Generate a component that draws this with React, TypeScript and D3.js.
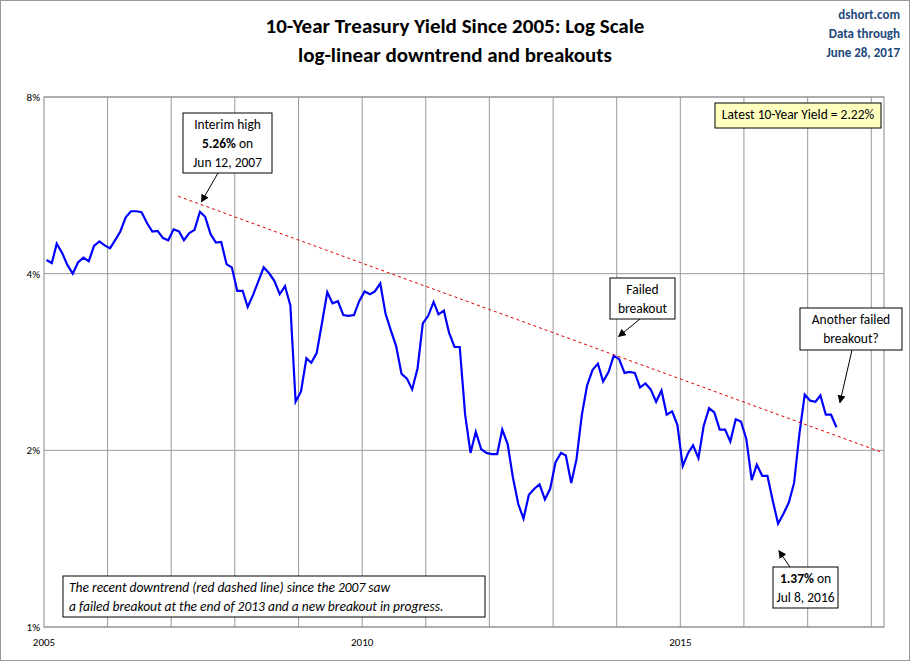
import React from "react";
import * as d3 from "d3";

// monthly 10-year yields, Jan 2005 .. Jun 2017
const startYear = 2005;
const yields = [
  4.22, 4.17, 4.5, 4.34, 4.14, 4.0, 4.18, 4.26, 4.2, 4.46, 4.54, 4.47,
  4.42, 4.57, 4.72, 4.99, 5.11, 5.11, 5.09, 4.88, 4.72, 4.73, 4.6, 4.56,
  4.76, 4.72, 4.56, 4.69, 4.75, 5.1, 5.0, 4.67, 4.52, 4.53, 4.15, 4.1,
  3.74, 3.74, 3.51, 3.68, 3.88, 4.1, 4.01, 3.89, 3.69, 3.81, 3.53, 2.42,
  2.52, 2.87, 2.82, 2.93, 3.29, 3.72, 3.56, 3.59, 3.4, 3.39, 3.4, 3.59,
  3.73, 3.69, 3.73, 3.85, 3.42, 3.2, 3.01, 2.7, 2.65, 2.54, 2.76, 3.29,
  3.39, 3.58, 3.41, 3.46, 3.17, 3.0, 3.0, 2.3, 1.98, 2.15, 2.01, 1.98,
  1.97, 1.97, 2.17, 2.05, 1.8, 1.62, 1.53, 1.68, 1.72, 1.75, 1.65, 1.72,
  1.91, 1.98, 1.96, 1.76, 1.93, 2.3, 2.58, 2.74, 2.81, 2.62, 2.72, 2.9,
  2.86, 2.71, 2.72, 2.71, 2.56, 2.6, 2.54, 2.42, 2.53, 2.3, 2.33, 2.21,
  1.88, 1.98, 2.04, 1.94, 2.2, 2.36, 2.32, 2.17, 2.17, 2.07, 2.26, 2.24,
  2.09, 1.78, 1.89, 1.81, 1.81, 1.64, 1.5, 1.56, 1.63, 1.76, 2.14, 2.49,
  2.43, 2.42, 2.48, 2.3, 2.3, 2.19,
];
const yTicks = [1, 2, 4, 8];
const xTicks = [2005, 2010, 2015];
const trend = [
  { date: new Date(2007, 1, 10), v: 5.42 },
  { date: new Date(2018, 1, 20), v: 1.99 },
];
const highPoint = { date: new Date(2007, 5, 12), v: 5.26 };
const lowPoint = { date: new Date(2016, 6, 8), v: 1.37 };
const failedPoint = { date: new Date(2013, 11, 31), v: 3.03 };
const anotherPoint = { date: new Date(2017, 4, 20), v: 2.45 };

const data = yields.map((v, i) => ({ date: new Date(startYear, i, 15), v }));

const L = 44, R = 884, T = 97, B = 627;
const font = "Calibri, Carlito, 'Liberation Sans', Arial, sans-serif";

export default function App() {
  const x = d3.scaleTime().domain([new Date(2005, 0, 1), new Date(2018, 2, 15)]).range([L, R]);
  const y = d3.scaleLog().domain([1, 8]).range([B, T]);
  const line = d3.line<{ date: Date; v: number }>().x((d) => x(d.date)).y((d) => y(d.v));
  const years = d3.range(2006, 2019).map((yr) => new Date(yr, 0, 1)).filter((d) => x(d) < R);

  const box = (bx: number, by: number, w: number, h: number, lines: React.ReactNode[], fill = "#fff", align: "middle" | "start" = "middle", italic = false) => (
    <g>
      <rect x={bx} y={by} width={w} height={h} fill={fill} stroke="#000" strokeWidth={1} />
      {lines.map((t, i) => (
        <text key={i} x={align === "middle" ? bx + w / 2 : bx + 6} y={by + 16 + i * 19} textAnchor={align} fontSize={13.5} fontStyle={italic ? "italic" : "normal"}>{t}</text>
      ))}
    </g>
  );
  const arrow = (x1: number, y1: number, x2: number, y2: number) => (
    <line x1={x1} y1={y1} x2={x2} y2={y2} stroke="#000" strokeWidth={1} markerEnd="url(#ah)" />
  );

  return (
    <svg width={910} height={661} style={{ position: "absolute", left: 0, top: 0, fontFamily: font }}>
      <defs>
        <marker id="ah" viewBox="0 0 10 10" refX={9} refY={5} markerWidth={8} markerHeight={8} orient="auto">
          <path d="M0,0 L10,5 L0,10 z" fill="#000" />
        </marker>
      </defs>
      <rect x={0.5} y={0.5} width={909} height={660} fill="#fff" stroke="#999" />
      <rect x={L} y={T} width={R - L} height={B - T} fill="#fff" stroke="#888" />
      {years.map((d, i) => (
        <line key={i} x1={x(d)} x2={x(d)} y1={T} y2={B} stroke="#999" strokeWidth={1} />
      ))}
      {yTicks.map((t) => (
        <g key={t}>
          <line x1={L} x2={R} y1={y(t)} y2={y(t)} stroke="#999" />
          <text x={L - 4} y={y(t) + 4} textAnchor="end" fontSize={11}>{t}%</text>
        </g>
      ))}
      {xTicks.map((t) => (
        <text key={t} x={x(new Date(t, 0, 1))} y={B + 19} textAnchor="middle" fontSize={11}>{t}</text>
      ))}
      <path d={line(data) || ""} fill="none" stroke="#0000ff" strokeWidth={2.2} />
      <path d={line(trend) || ""} fill="none" stroke="#e00000" strokeWidth={1} strokeDasharray="3,3" />

      <text x={455} y={33} textAnchor="middle" fontSize={21} fontWeight={600}>10-Year Treasury Yield Since 2005: Log Scale</text>
      <text x={455} y={62} textAnchor="middle" fontSize={21} fontWeight={600}>log-linear downtrend and breakouts</text>
      <g fill="#1f497d" fontSize={13} textAnchor="end" fontWeight={600}>
        <text x={900} y={19}>dshort.com</text>
        <text x={900} y={38}>Data through</text>
        <text x={900} y={57}>June 28, 2017</text>
      </g>

      {box(715, 103, 166, 25, ["Latest 10-Year Yield = 2.22%"], "#ffffc0")}
      {box(183, 113, 89, 60, ["Interim high", <tspan><tspan fontWeight="bold">5.26%</tspan> on</tspan>, "Jun 12, 2007"])}
      {arrow(218, 173, x(highPoint.date) + 2, y(highPoint.v) - 2)}
      {box(610, 278, 65, 41, ["Failed", "breakout"])}
      {arrow(640, 319, x(failedPoint.date) + 2, y(failedPoint.v) - 8)}
      {box(800, 308, 102, 42, ["Another failed", "breakout?"])}
      {arrow(852, 350, x(anotherPoint.date) + 8, y(anotherPoint.v) + 4)}
      {box(773, 567, 65, 41, [<tspan><tspan fontWeight="bold">1.37%</tspan> on</tspan>, "Jul 8, 2016"])}
      {arrow(790, 567, x(lowPoint.date) + 2, y(lowPoint.v) + 4)}
      {box(63, 576, 422, 41, ["The recent downtrend (red dashed line) since the 2007 saw", "a failed breakout at the end of 2013  and a new breakout in progress."], "#fff", "start", true)}
    </svg>
  );
}
